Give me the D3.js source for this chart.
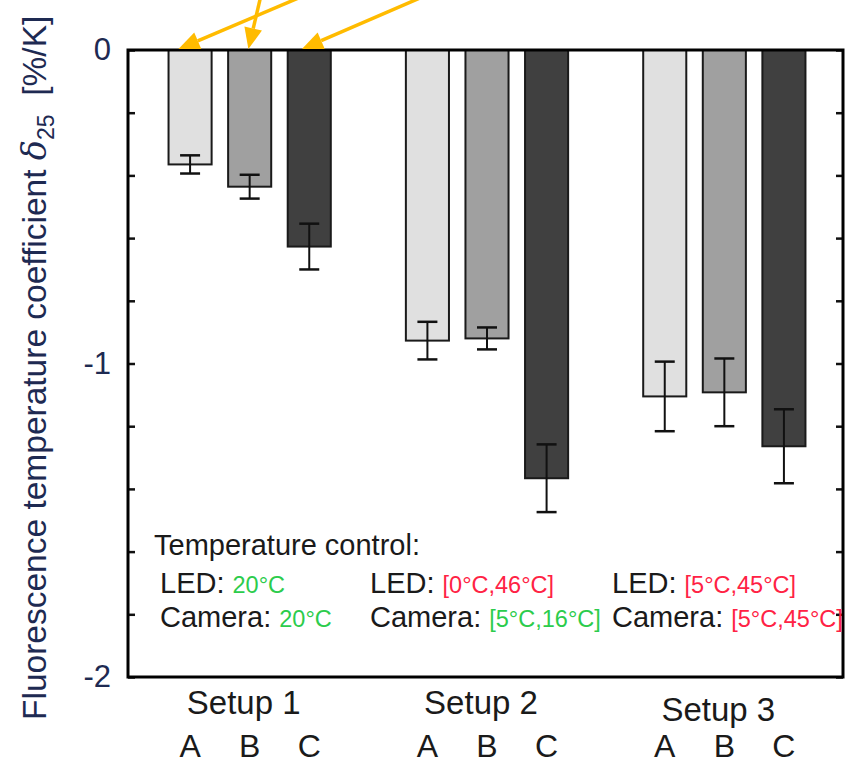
<html>
<head>
<meta charset="UTF-8">
<script src="https://d3js.org/d3.v7.min.js"></script>
<style>
  body { margin: 0; background: #fff; }
  text { font-family: "Liberation Sans", Arial, sans-serif; }
</style>
</head>
<body>
<svg width="846" height="764"></svg>
<script>
// data
var setups = ["Setup 1", "Setup 2", "Setup 3"];
var variants = ["A", "B", "C"];
var valsA = [-0.365, -0.927, -1.105];
var valsB = [-0.436, -0.920, -1.092];
var valsC = [-0.627, -1.366, -1.264];
var errA = [0.029, 0.060, 0.111];
var errB = [0.038, 0.035, 0.108];
var errC = [0.073, 0.108, 0.118];
var yTicks = [0, -0.2, -0.4, -0.6, -0.8, -1, -1.2, -1.4, -1.6, -1.8, -2];
var ledTemps = ["20°C", "[0°C,46°C]", "[5°C,45°C]"];
var camTemps = ["20°C", "[5°C,16°C]", "[5°C,45°C]"];
var ledOk = [true, false, false];
var camOk = [true, true, false];

var fills = {A: "#e0e0e0", B: "#a0a0a0", C: "#404040"};
var green = "#2ccc4c", red = "#ff2244";

var svg = d3.select("svg");
var plot = {left: 128, right: 843, top: 50, bottom: 677};

var x0 = d3.scaleBand().domain(setups).range([131, 843]).padding(0);
var x1 = d3.scaleBand().domain(variants).range([0, x0.bandwidth()])
    .paddingInner(0.277).paddingOuter(0.63);
var y = d3.scaleLinear().domain([0, -2]).range([plot.top, plot.bottom]);

// build rows
var rows = [];
setups.forEach(function(s, i) {
    rows.push({setup: s, v: "A", val: valsA[i], err: errA[i]});
    rows.push({setup: s, v: "B", val: valsB[i], err: errB[i]});
    rows.push({setup: s, v: "C", val: valsC[i], err: errC[i]});
});

// bars
var bars = svg.append("g").selectAll("g").data(rows).enter().append("g")
    .attr("transform", function(d) { return "translate(" + x0(d.setup) + ",0)"; });
bars.append("rect")
    .attr("x", function(d) { return x1(d.v); })
    .attr("y", y(0))
    .attr("width", x1.bandwidth())
    .attr("height", function(d) { return y(d.val) - y(0); })
    .attr("fill", function(d) { return fills[d.v]; })
    .attr("stroke", "#1a1a1a")
    .attr("stroke-width", 2);

// error bars
var cap = 10;
bars.append("line")
    .attr("x1", function(d) { return x1(d.v) + x1.bandwidth() / 2; })
    .attr("x2", function(d) { return x1(d.v) + x1.bandwidth() / 2; })
    .attr("y1", function(d) { return y(d.val + d.err); })
    .attr("y2", function(d) { return y(d.val - d.err); })
    .attr("stroke", "#111").attr("stroke-width", 2);
[1, -1].forEach(function(sg) {
    bars.append("line")
        .attr("x1", function(d) { return x1(d.v) + x1.bandwidth() / 2 - cap; })
        .attr("x2", function(d) { return x1(d.v) + x1.bandwidth() / 2 + cap; })
        .attr("y1", function(d) { return y(d.val + sg * d.err); })
        .attr("y2", function(d) { return y(d.val + sg * d.err); })
        .attr("stroke", "#111").attr("stroke-width", 2.5);
});

// axes, ticks inside
var yAxisL = d3.axisLeft(y).tickValues(yTicks).tickSize(-7).tickPadding(17)
    .tickFormat(function(d) { return Number.isInteger(d) ? d3.format("d")(d).replace("−", "-") : ""; });
var gL = svg.append("g").attr("transform", "translate(" + plot.left + ",0)").call(yAxisL);
gL.select(".domain").remove();
gL.selectAll(".tick line").attr("stroke", "#111").attr("stroke-width", 2.5);
gL.selectAll(".tick text").attr("font-size", 31).attr("fill", "#1e2a52")
    .attr("font-family", "Liberation Sans, Arial, sans-serif");

var yAxisR = d3.axisRight(y).tickValues(yTicks).tickSize(-7).tickFormat("");
var gR = svg.append("g").attr("transform", "translate(" + plot.right + ",0)").call(yAxisR);
gR.select(".domain").remove();
gR.selectAll(".tick line").attr("stroke", "#111").attr("stroke-width", 2.5);

// frame
svg.append("rect")
    .attr("x", plot.left).attr("y", plot.top)
    .attr("width", plot.right - plot.left).attr("height", plot.bottom - plot.top)
    .attr("fill", "none").attr("stroke", "#000").attr("stroke-width", 3);

// y label
var yl = svg.append("text")
    .attr("transform", "translate(46,720) rotate(-90)")
    .attr("font-size", 33.5).attr("fill", "#1e2a52");
yl.append("tspan").text("Fluorescence temperature coefficient ");
yl.append("tspan").attr("font-style", "italic").attr("font-family", "DejaVu Serif, serif").text("δ");
yl.append("tspan").attr("font-size", 23).attr("dy", 8).text("25");
yl.append("tspan").attr("dy", -8).attr("xml:space", "preserve").text("  [%/K]");

// category labels
svg.append("g").selectAll("text").data(setups).enter().append("text")
    .attr("x", function(d) { return x0(d) + x0.bandwidth() / 2 - 6; })
    .attr("y", function(d, i) { return i == 2 ? 721 : 714; })
    .attr("text-anchor", "middle").attr("font-size", 33).attr("fill", "#1a1a1a")
    .text(function(d) { return d; });
svg.append("g").selectAll("text").data(rows).enter().append("text")
    .attr("x", function(d) { return x0(d.setup) + x1(d.v) + x1.bandwidth() / 2; })
    .attr("y", 757)
    .attr("text-anchor", "middle").attr("font-size", 32).attr("fill", "#1a1a1a")
    .text(function(d) { return d.v; });

// legend text
svg.append("text").attr("x", 154).attr("y", 555).attr("font-size", 29)
    .attr("fill", "#1a1a1a").text("Temperature control:");
var colX = [160, 370, 612];
setups.forEach(function(s, i) {
    var t1 = svg.append("text").attr("x", colX[i]).attr("y", 593).attr("font-size", 29).attr("fill", "#1a1a1a");
    t1.append("tspan").text("LED: ");
    t1.append("tspan").attr("font-size", 23.5).attr("fill", ledOk[i] ? green : red).text(ledTemps[i]);
    var t2 = svg.append("text").attr("x", colX[i]).attr("y", 627).attr("font-size", 29).attr("fill", "#1a1a1a");
    t2.append("tspan").text("Camera: ");
    t2.append("tspan").attr("font-size", 23.5).attr("fill", camOk[i] ? green : red).text(camTemps[i]);
});

// orange arrows pointing at setup 1 bars
var arrowTo = [{v: "A", f: 0.23, dx: 120}, {v: "B", f: 0.47, dx: 12}, {v: "C", f: 0.33, dx: 118}];
var orange = "#ffbb00";
arrowTo.forEach(function(a) {
    var tx = x0("Setup 1") + x1(a.v) + x1.bandwidth() * a.f, ty = y(0) - 1;
    var sx = tx + a.dx, sy = -2;
    var ang = Math.atan2(ty - sy, tx - sx);
    var L = 21, W = 9;
    var bx = tx - L * Math.cos(ang), by = ty - L * Math.sin(ang);
    svg.append("line").attr("x1", sx).attr("y1", sy).attr("x2", bx).attr("y2", by)
        .attr("stroke", orange).attr("stroke-width", 3.5);
    svg.append("path")
        .attr("d", "M" + tx + "," + ty +
            "L" + (bx + W * Math.sin(ang)) + "," + (by - W * Math.cos(ang)) +
            "L" + (bx - W * Math.sin(ang)) + "," + (by + W * Math.cos(ang)) + "Z")
        .attr("fill", orange);
});
</script>
</body>
</html>
